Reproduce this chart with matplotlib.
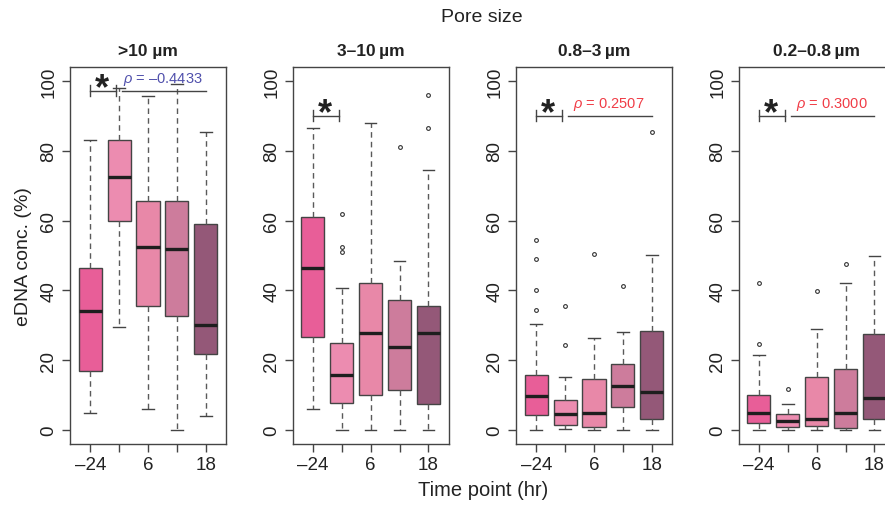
import matplotlib.pyplot as plt

plt.rcParams['font.family'] = ['Liberation Sans', 'DejaVu Sans']
plt.rcParams['mathtext.fontset'] = 'custom'
plt.rcParams['mathtext.rm'] = 'Liberation Sans'
plt.rcParams['mathtext.it'] = 'Liberation Sans:italic'

# pore size fractions and sampling times
pore_sizes = ['>10 µm', '3–10\u2009µm', '0.8–3\u2009µm', '0.2–0.8\u2009µm']
time_labels = ['–24', '', '6', '', '18']
box_colors = ['#E85E98', '#EC8CB0', '#E888A8', '#CD7C9C', '#945878']

# box statistics per pore size (whisker low, Q1, median, Q3, whisker high, outliers)
whislo = [
    [4.9, 29.4, 5.9, 0.0, 4.0],
    [6.0, 0.0, 0.0, 0.0, 0.0],
    [0.0, 0.2, 0.0, 0.0, 0.0],
    [0.0, 0.0, 0.0, 0.0, 0.0],
]
q1 = [
    [17.0, 59.8, 35.4, 32.6, 21.8],
    [26.7, 7.8, 10.0, 11.4, 7.5],
    [4.2, 1.4, 0.8, 6.7, 3.1],
    [1.9, 0.9, 1.1, 0.7, 3.1],
]
med = [
    [34.2, 72.5, 52.3, 51.8, 30.2],
    [46.5, 15.9, 27.8, 23.8, 27.9],
    [9.8, 4.6, 4.8, 12.7, 10.8],
    [4.8, 2.6, 3.2, 4.8, 9.2],
]
q3 = [
    [46.3, 83.0, 65.7, 65.5, 59.1],
    [61.0, 24.9, 42.2, 37.3, 35.6],
    [15.9, 8.6, 14.6, 18.8, 28.4],
    [10.1, 4.6, 15.3, 17.4, 27.5],
]
whishi = [
    [83.0, 98.1, 95.6, 99.0, 85.3],
    [86.5, 40.8, 88.1, 48.4, 74.4],
    [30.3, 15.2, 26.3, 28.2, 50.1],
    [21.5, 7.5, 29.0, 42.2, 49.8],
]
fliers = [
    [[], [], [], [], []],
    [[], [62.0, 52.3, 51.0], [], [81.1], [96.0, 86.5]],
    [[54.4, 49.0, 40.1, 34.4], [35.6, 24.3], [50.3], [41.4], [85.5]],
    [[42.2, 24.7], [11.7], [39.7], [47.6], []],
]

# significance bracket height and Spearman rho per panel
sig_y = [97.2, 90.0, 90.0, 90.0]
rho_text = ['–0.4433', None, '0.2507', '0.3000']
rho_color = ['#5050AC', None, '#F03C46', '#F03C46']

fig = plt.figure(figsize=(8.85, 5.06), dpi=100)
W, H = 885.0, 506.0
lefts = [70, 292.7, 516, 738.7]
axes = []
for p in range(4):
    ax = fig.add_axes([lefts[p] / W, (H - 445) / H, 156 / W, (445 - 68) / H])
    axes.append(ax)

    stats = []
    for i in range(5):
        stats.append(dict(whislo=whislo[p][i], q1=q1[p][i], med=med[p][i],
                          q3=q3[p][i], whishi=whishi[p][i], fliers=fliers[p][i]))
    bp = ax.bxp(stats, positions=range(1, 6), widths=0.8, patch_artist=True,
                showfliers=True,
                boxprops=dict(edgecolor='#444444', linewidth=1.0),
                medianprops=dict(color='#1e1e1e', linewidth=2.4, solid_capstyle='butt'),
                whiskerprops=dict(color='#5a5a5a', linewidth=1.0, linestyle=(0, (4, 3))),
                capprops=dict(color='#444444', linewidth=1.0),
                capwidths=0.4,
                flierprops=dict(marker='o', markersize=2.7, markerfacecolor='none',
                                markeredgecolor='#333333', markeredgewidth=0.8))
    for patch, c in zip(bp['boxes'], box_colors):
        patch.set_facecolor(c)

    ax.set_xlim(0.3, 5.7)
    ax.set_ylim(-4, 104)
    ax.set_xticks(range(1, 6))
    ax.set_xticklabels(time_labels)
    ax.set_yticks([0, 20, 40, 60, 80, 100])
    ax.set_yticklabels(['0', '20', '40', '60', '80', '100'], rotation=90,
                       va='center')
    ax.tick_params(axis='both', length=6, width=1, color='#444444',
                   labelsize=13.5, labelcolor='#222222', pad=3)
    for s in ax.spines.values():
        s.set_color('#444444')
        s.set_linewidth(1.0)

    ax.text(0.5, 1 + 16 / 377, pore_sizes[p], transform=ax.transAxes,
            ha='center', va='center', fontsize=12.5, fontweight='bold',
            color='#222222')

    # pairwise significance bracket between -24 and 0 hr
    y = sig_y[p]
    ax.plot([1, 1.9], [y, y], color='#444444', lw=1)
    ax.plot([1, 1], [y - 1.6, y + 1.6], color='#444444', lw=1)
    ax.plot([1.9, 1.9], [y - 1.6, y + 1.6], color='#444444', lw=1)
    ax.text(1.42, y - 2.0, '*', ha='center', va='baseline', fontsize=26,
            fontweight='bold', color='#222222')

    # correlation over the later time points
    if rho_text[p] is not None:
        ax.plot([2.1, 5.0], [y, y], color='#444444', lw=1)
        ax.text(3.52, y + 1.2, r'$\rho$ = ' + rho_text[p], ha='center',
                va='bottom', fontsize=10.5, color=rho_color[p])

axes[0].set_ylabel('eDNA conc. (%)', fontsize=14, color='#222222', labelpad=6)
fig.text(482 / W, 1 - 17 / H, 'Pore size', ha='center', va='center',
         fontsize=14, color='#222222')
fig.text(483 / W, 1 - 491 / H, 'Time point (hr)', ha='center', va='center',
         fontsize=14.5, color='#222222')

fig.savefig('out.png', dpi=100)
